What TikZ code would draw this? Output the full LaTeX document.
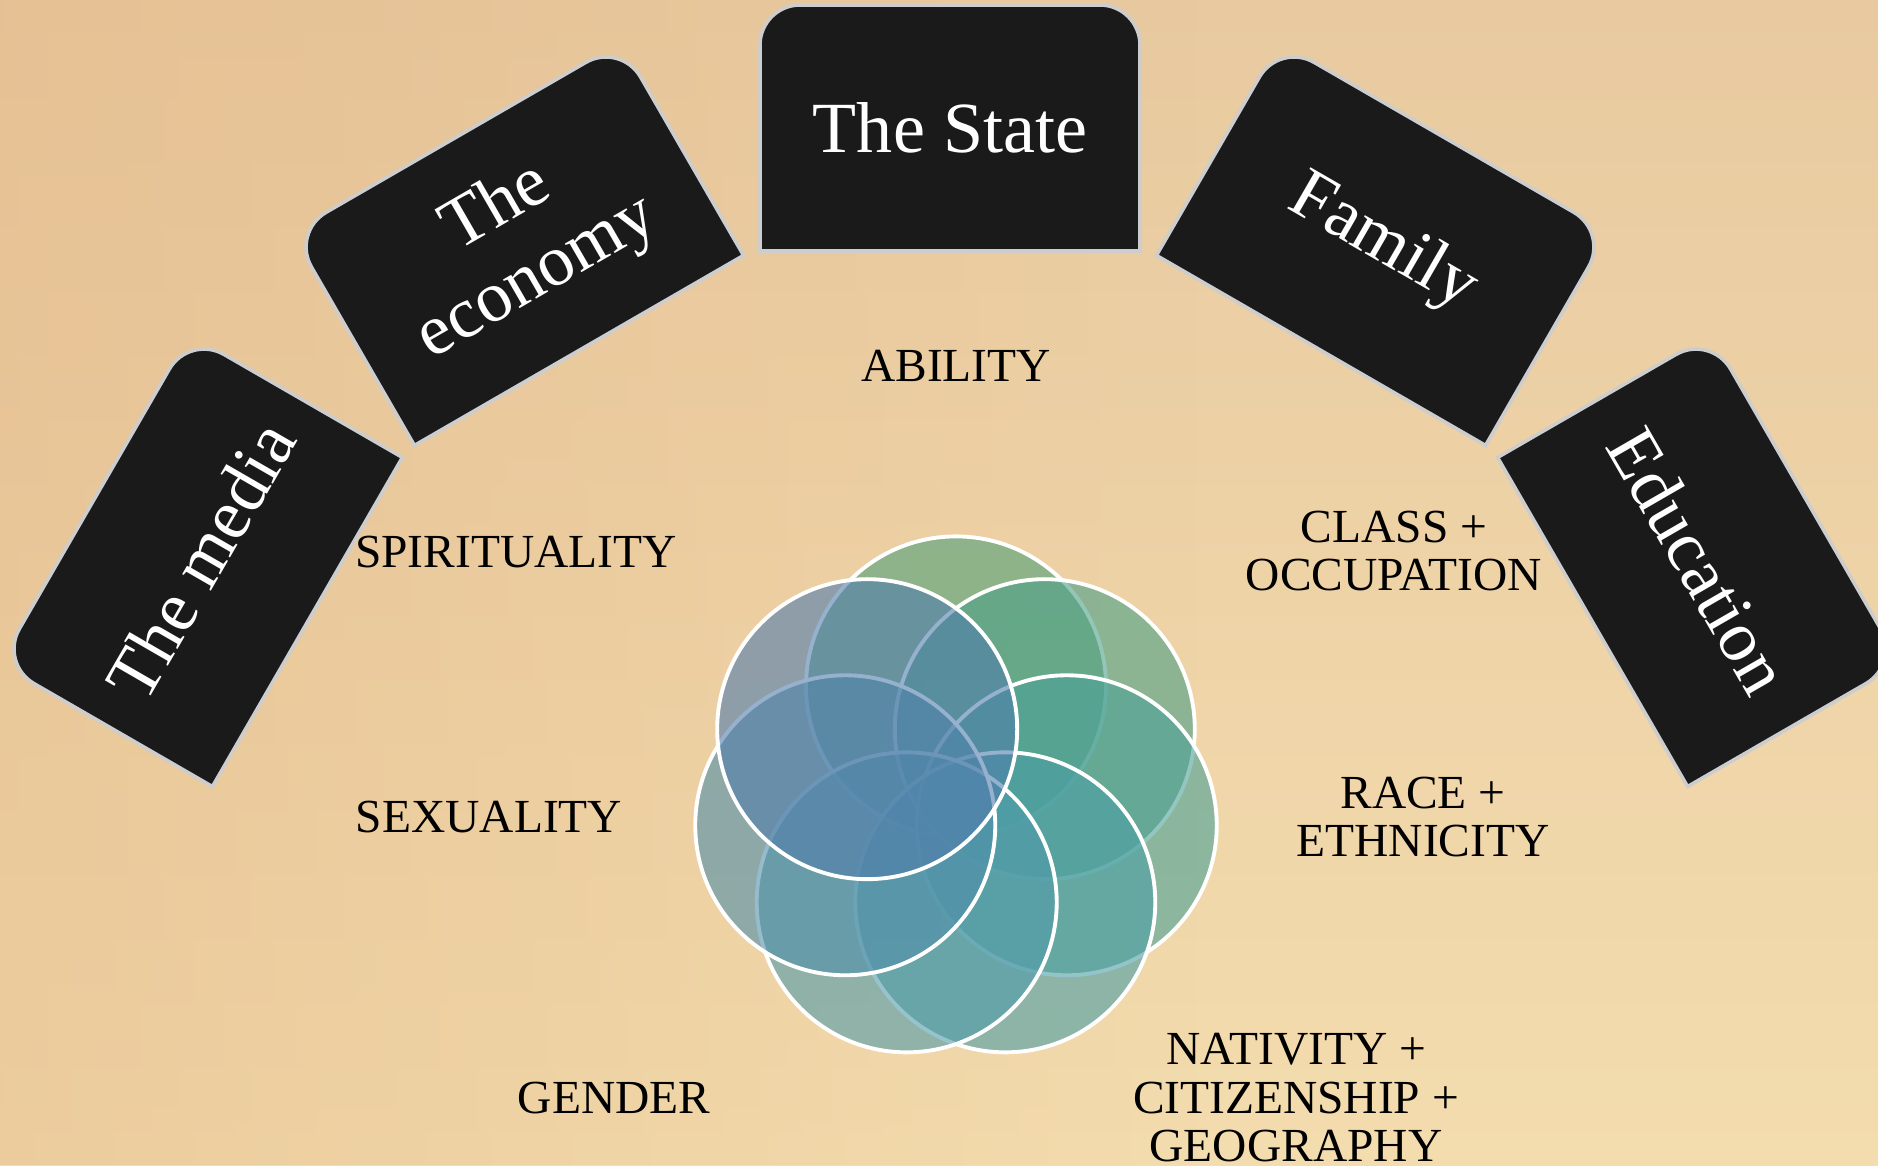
\documentclass[tikz,border=0pt]{standalone}
\usepackage{fontspec}
\setmainfont{Liberation Serif}
\usetikzlibrary{calc,fadings}

\definecolor{bgtop}{HTML}{E9CAA0}
\definecolor{bgmid}{HTML}{E9C59A}
\definecolor{bgbottom}{HTML}{F3DCAE}
\definecolor{bgorange}{HTML}{E0B07E}
\definecolor{cardblack}{HTML}{1A1A1A}
\definecolor{cardedge}{HTML}{CDCDCD}
\definecolor{petalA}{RGB}{80,160,120}
\definecolor{petalB}{RGB}{75,160,135}
\definecolor{petalC}{RGB}{75,160,150}
\definecolor{petalD}{RGB}{75,158,165}
\definecolor{petalE}{RGB}{80,155,170}
\definecolor{petalF}{RGB}{80,142,170}
\definecolor{petalG}{RGB}{80,125,172}

\tikzset{
  card/.style={fill=cardblack, draw=cardedge, line width=1pt},
  cardtext/.style={text=white, font=\fontsize{20.5}{23}\selectfont, align=center, transform shape},
  factor/.style={font=\fontsize{13.5}{13.8}\selectfont, align=center, text=black},
  petal/.style={circle, minimum size=3cm, inner sep=0pt, draw=white, line width=1.1pt, fill opacity=0.6},
}

\begin{document}
\begin{tikzpicture}
	\useasboundingbox (0,0) rectangle (18.78,11.65);
	\clip (0,0) rectangle (18.78,11.65);
	\fill[top color=bgtop, middle color=bgmid, bottom color=bgbottom] (0,0) rectangle (18.78,11.65);
	\fill[bgorange, path fading=east, fill opacity=0.35] (0,0) rectangle (12,11.65);

	\coordinate (arc) at (9.50,1.72);
	\coordinate (hub) at (9.56,3.65);

	% cards on the arc
	\foreach \ang/\nm/\txt in {150/media/{The media}, 120/economy/{The\\economy}, 90/state/{The State}, 60/family/{Family}, 30/education/{Education}}{
		\begin{scope}[shift={(arc)}, rotate={\ang-90}]
			\draw[card] (-1.9,7.42) -- (-1.9,9.48) arc[start angle=180, end angle=90, radius=0.4] -- (1.5,9.88) arc[start angle=90, end angle=0, radius=0.4] -- (1.9,7.42) -- cycle;
			\node[cardtext] (\nm) at (0,8.65) {\txt};
		\end{scope}
	}

	% overlapping circles
	\foreach \i/\col in {0/petalA, 1/petalB, 2/petalC, 3/petalD, 4/petalE, 5/petalF, 6/petalG}
		\node[petal, fill=\col] (petal\i) at ($(hub)+({90-\i*360/7}:1.136)$) {};

	% factors
	\node[factor] (ability) at (9.56,7.99) {ABILITY};
	\node[factor] (spirituality) at (5.16,6.13) {SPIRITUALITY};
	\node[factor] (sexuality) at (4.89,3.48) {SEXUALITY};
	\node[factor] (gender) at (6.14,0.67) {GENDER};
	\node[factor] (class) at (13.94,6.14) {CLASS +\\OCCUPATION};
	\node[factor] (race) at (14.23,3.48) {RACE +\\ETHNICITY};
	\node[factor] (nativity) at (12.96,0.67) {NATIVITY +\\CITIZENSHIP +\\GEOGRAPHY};
\end{tikzpicture}
\end{document}
